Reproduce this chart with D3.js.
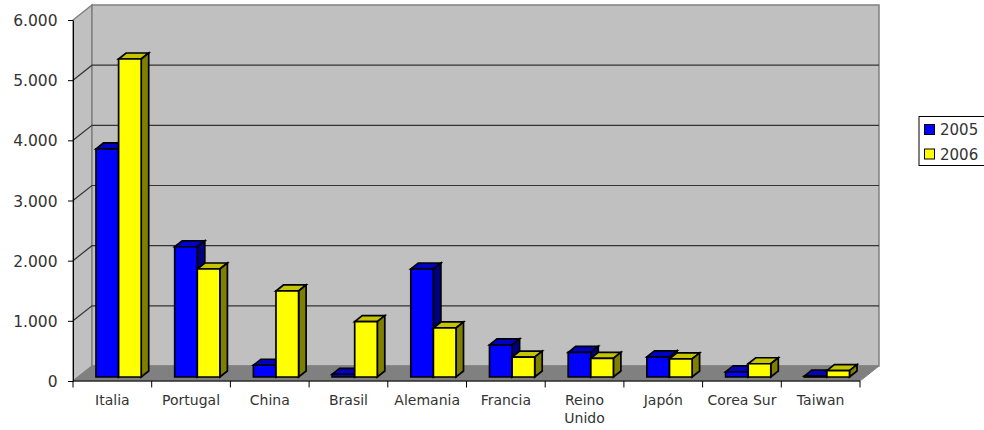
<!DOCTYPE html>
<html><head><meta charset="utf-8">
<script src="https://cdn.jsdelivr.net/npm/d3@7"></script>
<style>html,body{margin:0;padding:0;background:#fff}svg{display:block}text{font-family:"DejaVu Sans",sans-serif;fill:#333}</style>
</head><body><svg id="c" width="984" height="430"></svg>
<script>
const categories=["Italia","Portugal","China","Brasil","Alemania","Francia","Reino Unido","Japón","Corea Sur","Taiwan"];
const seriesNames=["2005","2006"];
const values2005=[3790,2165,195,45,1795,535,410,335,85,15];
const values2006=[5285,1795,1430,920,815,330,310,300,220,105];
const yTicks=[0,1000,2000,3000,4000,5000,6000];
const tickLabels=["0","1.000","2.000","3.000","4.000","5.000","6.000"];
const colors={front:["#0000ff","#ffff00"],top:["#0000c4","#c4c400"],side:["#00007f","#7f7f00"]};

const svg=d3.select("#c");
const L=73,R=860,B=381,T=20,DX=19,DY=-15;
const x=d3.scaleBand().domain(categories).range([L,R]);
const y=d3.scaleLinear().domain([0,6000]).range([B,T]);
const poly=(pts,fill,stroke,sw)=>svg.append("polygon").attr("points",pts.map(p=>p.join(",")).join(" ")).attr("fill",fill).attr("stroke",stroke||"none").attr("stroke-width",sw||1).attr("stroke-linejoin","miter");
// walls
poly([[L,B],[L,T],[L+DX,T+DY],[L+DX,B+DY]],"#c0c0c0","#808080",1.5);
poly([[L+DX,T+DY],[R+DX,T+DY],[R+DX,B+DY],[L+DX,B+DY]],"#c0c0c0","#808080",1.5);
poly([[L,B],[L+DX,B+DY],[R+DX,B+DY],[R,B]],"#808080","#808080",1);
// gridlines
yTicks.slice(1,-1).forEach(t=>{
  svg.append("path").attr("d",`M${L},${y(t)}L${L+DX},${y(t)+DY}H${R+DX}`).attr("fill","none").attr("stroke","#333").attr("stroke-width",1.2);
});
// axes
const axL=svg.append("g").attr("transform",`translate(${L},0)`).call(d3.axisLeft(y).tickValues(yTicks).tickFormat((d,i)=>tickLabels[i]).tickSize(5).tickSizeOuter(0));
axL.selectAll("text").attr("font-size",15.5).attr("dy","0.36em").attr("x",-15.5);
axL.selectAll("line,path").attr("stroke","#000");
svg.append("path").attr("d",`M${L},${B}H${R}`).attr("stroke","#000");
[...categories.map(c=>x(c)),R].forEach(v=>svg.append("line").attr("x1",v).attr("x2",v).attr("y1",B).attr("y2",B+6.5).attr("stroke","#000"));
categories.forEach(c=>{
  const t=svg.append("text").attr("text-anchor","middle").attr("font-size",14).attr("y",405);
  const cx=x(c)+x.bandwidth()/2;
  const w=c==="Reino Unido"?c.split(" "):[c];
  w.forEach((s,i)=>t.append("tspan").attr("x",cx).attr("dy",i?18:0).text(s));
});
// bars
const bw=22.6,bd=[7.5,-6],b0=4,sw=1.7;
[values2005,values2006].forEach((vals,s)=>{
  vals.forEach((v,i)=>{
    const x0=x(categories[i])+23+s*bw, x1=x0+bw, yb=y(0)-b0, yt=y(v)-b0;
    const [dx,dy]=bd;
    poly([[x0,yt],[x0+dx,yt+dy],[x1+dx,yt+dy],[x1,yt]],colors.top[s],"#000",sw);
    poly([[x1,yt],[x1+dx,yt+dy],[x1+dx,yb+dy],[x1,yb]],colors.side[s],"#000",sw);
    poly([[x0,yt],[x1,yt],[x1,yb],[x0,yb]],colors.front[s],"#000",sw);
  });
});
// legend
svg.append("rect").attr("x",919).attr("y",116.5).attr("width",70).attr("height",49).attr("fill","#fff").attr("stroke","#000");
seriesNames.forEach((n,i)=>{
  const yy=124.5+i*24.5;
  svg.append("rect").attr("x",924.5).attr("y",yy).attr("width",10).attr("height",10).attr("fill",colors.front[i]).attr("stroke","#000");
  svg.append("text").attr("x",940).attr("y",yy+10.5).attr("font-size",15).text(n);
});
</script></body></html>
